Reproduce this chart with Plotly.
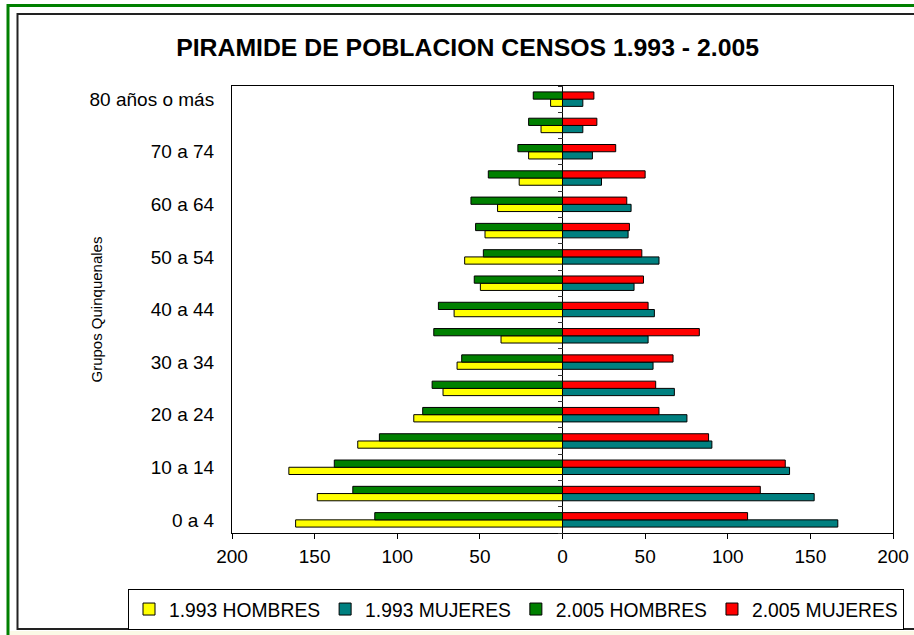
import plotly.graph_objects as go

# ---------------- data ----------------
categories = ["0 a 4", "5 a 9", "10 a 14", "15 a 19", "20 a 24", "25 a 29",
              "30 a 34", "35 a 39", "40 a 44", "45 a 49", "50 a 54", "55 a 59",
              "60 a 64", "65 a 69", "70 a 74", "75 a 79", "80 años o más"]

hombres_1993 = [161.5, 148.4, 165.6, 123.9, 90.0, 72.3, 63.8, 37.2, 65.6,
                49.7, 59.2, 46.9, 39.3, 26.2, 20.5, 13.0, 7.2]
mujeres_1993 = [166.6, 152.3, 137.4, 90.4, 75.3, 67.7, 54.8, 51.8, 55.6,
                43.3, 58.4, 39.7, 41.5, 23.6, 18.1, 12.3, 12.3]
hombres_2005 = [113.6, 126.9, 138.1, 110.8, 84.6, 78.9, 61.0, 77.9, 75.1,
                53.4, 47.9, 52.6, 55.4, 44.9, 27.0, 20.5, 17.7]
mujeres_2005 = [112.0, 119.7, 134.8, 88.4, 58.4, 56.4, 66.9, 82.8, 51.8,
                49.0, 48.0, 40.5, 38.9, 50.0, 32.2, 20.8, 19.0]

x_tick_values = [-200, -150, -100, -50, 0, 50, 100, 150, 200]
x_tick_labels = ["200", "150", "100", "50", "0", "50", "100", "150", "200"]

series_names = ["1.993 HOMBRES", "1.993 MUJERES", "2.005 HOMBRES", "2.005 MUJERES"]

# ---------------- layout geometry ----------------
W, H = 914, 635
L, R, T, B = 232, 21, 86, 102
PW = W - L - R
PH = H - T - B


def px(x):
    return (x - L) / PW


def py(y):
    return (H - B - y) / PH


FONT = "Arial, 'Liberation Sans', sans-serif"

ypos = list(range(len(categories)))

fig = go.Figure()
specs = [
    (series_names[0], hombres_1993, -1, "#FFFF00", "a"),
    (series_names[1], mujeres_1993, 1, "#008080", "a"),
    (series_names[2], hombres_2005, -1, "#008000", "b"),
    (series_names[3], mujeres_2005, 1, "#FF0000", "b"),
]
for name, vals, sign, color, grp in specs:
    fig.add_trace(go.Bar(
        y=ypos, x=[sign * v for v in vals], orientation="h",
        name=name, offsetgroup=grp,
        marker=dict(color=color, line=dict(color="black", width=1)),
        customdata=categories,
        hovertemplate="%{customdata}: " + "%{x}<extra>" + name + "</extra>",
    ))

# helper (invisible) trace so the secondary axis carrying tick marks at 0 is drawn
fig.add_trace(go.Scatter(
    x=[0] * len(ypos), y=ypos, yaxis="y2", mode="markers",
    marker=dict(opacity=0), showlegend=False, hoverinfo="skip",
))

fig.update_layout(
    width=W, height=H,
    margin=dict(l=L, r=R, t=T, b=B, autoexpand=False),
    paper_bgcolor="white", plot_bgcolor="white",
    font=dict(family=FONT, color="black"),
    barmode="group", bargap=0.45, bargroupgap=0,
    title=dict(
        text="<b>PIRAMIDE DE POBLACION CENSOS 1.993 - 2.005</b>",
        x=467.6 / W, xref="container", xanchor="center",
        y=1 - 47 / H, yref="container", yanchor="middle",
        font=dict(family=FONT, size=24.8, color="black"),
    ),
    xaxis=dict(
        range=[-200, 200], tickvals=x_tick_values, ticktext=x_tick_labels,
        ticks="outside", ticklen=5, tickcolor="black", tickwidth=1,
        showline=True, linecolor="black", linewidth=1, mirror=True,
        showgrid=False, zeroline=True, zerolinecolor="black", zerolinewidth=1,
        tickfont=dict(size=19, family=FONT), ticklabelstandoff=1,
        fixedrange=True,
    ),
    yaxis=dict(
        range=[-0.5, len(categories) - 0.5],
        tickvals=ypos[::2], ticktext=categories[::2],
        ticks="", showline=True, linecolor="black", linewidth=1, mirror=True,
        showgrid=False, zeroline=False,
        tickfont=dict(size=19, family=FONT), ticklabelstandoff=13,
        fixedrange=True,
    ),
    yaxis2=dict(
        overlaying="y", matches="y", anchor="free", position=0.5, side="left",
        tickvals=[i - 0.5 for i in range(len(categories) + 1)],
        ticks="outside", ticklen=5, tickcolor="#333333", tickwidth=1,
        showticklabels=False, showline=False, showgrid=False, zeroline=False,
        fixedrange=True,
    ),
    legend=dict(
        orientation="h", x=px(128), xanchor="left", y=py(589), yanchor="top",
        bordercolor="black", borderwidth=1, bgcolor="white",
        font=dict(size=19.3, family=FONT, color="black"),
        traceorder="normal",
    ),
    showlegend=True,
)

fig.add_annotation(
    text="Grupos Quinquenales", textangle=-90,
    x=px(96), y=0.5, xref="paper", yref="paper",
    xanchor="center", yanchor="middle", showarrow=False,
    font=dict(size=15, family=FONT, color="black"),
)

# decorative frames (page background band, green outer frame, black chart frame)
fig.add_shape(type="rect", xref="paper", yref="paper",
              x0=px(10), x1=px(930), y0=py(631), y1=py(640),
              line=dict(width=0), fillcolor="#fbf9e6", layer="below")
fig.add_shape(type="rect", xref="paper", yref="paper",
              x0=px(8), x1=px(940), y0=py(5.5), y1=py(660),
              line=dict(color="#008000", width=3), fillcolor="rgba(0,0,0,0)")
fig.add_shape(type="rect", xref="paper", yref="paper",
              x0=px(17.5), x1=px(940), y0=py(14), y1=py(629),
              line=dict(color="#222222", width=2), fillcolor="rgba(0,0,0,0)")

fig.write_html(
    "out.html",
    config={"displayModeBar": False},
    post_script="document.body.style.margin='0px';document.body.style.overflow='hidden';",
)
